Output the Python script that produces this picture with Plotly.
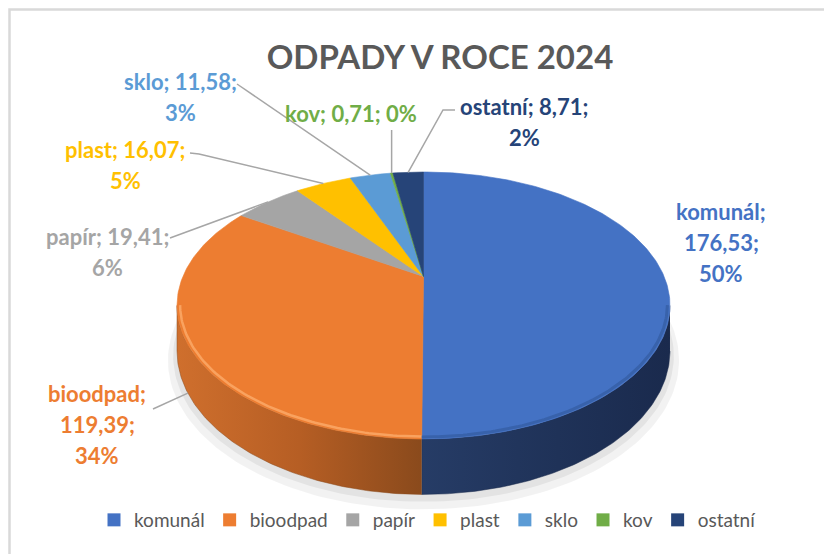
import numpy as np
import plotly.graph_objects as go

# ---------------- data ----------------
categories = ["komunál", "bioodpad", "papír", "plast", "sklo", "kov", "ostatní"]
values = [176.53, 119.39, 19.41, 16.07, 11.58, 0.71, 8.71]
colors = ["#4472C4", "#ED7D31", "#A5A5A5", "#FFC000", "#5B9BD5", "#70AD47", "#264478"]
title_text = "ODPADY V ROCE 2024"

# ---------------- layout / style ----------------
W, H = 832, 554
OFF = 8                      # page body margin compensation
CX, CY = 423.5, 276.5        # apex of the pie on screen
S, SK = 240.6, 127.2         # horizontal / vertical projection scale
P = 0.2172                   # perspective factor
T = 43.4                     # thickness
FONT = "Lato"

side_scales = {
    "komunál": [[0, "#263c66"], [0.55, "#1f3258"], [1, "#1a2a4d"]],
    "bioodpad": [[0, "#cf6f2d"], [0.5, "#b65e24"], [1, "#8a4a1c"]],
}
# label blocks: centre x, first line y, number of lines
label_pos = {
    "komunál": (721, 211, 3),
    "bioodpad": (97, 393, 3),
    "papír": (107, 236, 2),
    "plast": (125, 149, 2),
    "sklo": (180, 81, 2),
    "kov": (351, 113, 1),
    "ostatní": (524, 106, 2),
}
line_gap = 31
leader_start = {
    "bioodpad": [(153, 409)],
    "papír": [(170, 238)],
    "plast": [(190, 153), (199, 154)],
    "sklo": [(237, 84)],
    "kov": [("ax", 130)],
    "ostatní": [(455, 110), (443, 110)],
}


def px2paper_x(px):
    return (px - OFF) / W


def px2paper_y(py):
    return 1 - (py - OFF) / H


def proj(a, depth=0.0, r=1.0):
    u = r * np.sin(a)
    v = r * np.cos(a)
    w = 1 + P * v
    return CX + S * u / w, CY - SK * v / w + depth * T / w


vals = np.array(values)
total = vals.sum()
frac = vals / total
ends = 2 * np.pi * np.cumsum(frac)
starts = ends - 2 * np.pi * frac
A1 = np.arccos(-P)
A2 = 2 * np.pi - A1

fig = go.Figure()

# soft shadow
for r, dy, op in [(1.035, 7, 0.05), (1.015, 4, 0.06)]:
    a = np.linspace(0, 2 * np.pi, 240)
    x, y = proj(a, 1.0, r)
    fig.add_trace(go.Scatter(x=x, y=y + dy, fill="toself", mode="lines",
                             line=dict(width=0), fillcolor=f"rgba(0,0,0,{op})",
                             hoverinfo="skip", showlegend=False))

# side walls (front half only)
for i, name in enumerate(categories):
    lo, hi = max(starts[i], A1), min(ends[i], A2)
    if hi <= lo:
        continue
    a = np.linspace(lo, hi, 120)
    xt, yt = proj(a, 0.0)
    xb, yb = proj(a[::-1], 1.0)
    xs = np.concatenate([xt, xb])
    ys = np.concatenate([yt, yb])
    kw = {}
    if name in side_scales:
        kw["fillgradient"] = dict(type="horizontal", colorscale=side_scales[name])
    else:
        kw["fillcolor"] = colors[i]
    fig.add_trace(go.Scatter(x=xs, y=ys, fill="toself", mode="lines",
                             line=dict(width=0.5, color=side_scales.get(name, [[0, colors[i]]])[-1][1]),
                             hoverinfo="skip", showlegend=False, **kw))

# top faces
for i, name in enumerate(categories):
    n = max(3, int(400 * frac[i]))
    a = np.linspace(starts[i], ends[i], n)
    x, y = proj(a, 0.0)
    xs = np.concatenate([[CX], x, [CX]])
    ys = np.concatenate([[CY], y, [CY]])
    fig.add_trace(go.Scatter(x=xs, y=ys, fill="toself", mode="lines",
                             fillcolor=colors[i], line=dict(width=0.6, color=colors[i]),
                             hoverinfo="skip", showlegend=False))

# rim highlight on bioodpad / shading on komunál
i = 1
a = np.linspace(max(starts[i], A1), min(ends[i], A2), 100)
x, y = proj(a, 0.0, 0.988)
fig.add_trace(go.Scatter(x=x, y=y, mode="lines", line=dict(color="#f9a25f", width=2.5),
                         hoverinfo="skip", showlegend=False))
i = 0
a = np.linspace(max(starts[i], A1), min(ends[i], A2), 100)
x, y = proj(a, 0.0, 0.99)
fig.add_trace(go.Scatter(x=x, y=y, mode="lines", line=dict(color="#3862ab", width=3),
                         hoverinfo="skip", showlegend=False))

# leader lines
for i, name in enumerate(categories):
    if name not in leader_start:
        continue
    mid = (starts[i] + ends[i]) / 2
    if np.cos(mid) < 0:
        ax, ay = proj(mid, 1.0)
    else:
        ax, ay = proj(mid, 0.0)
    pts = [(ax if px == "ax" else px, py) for px, py in leader_start[name]]
    xs = [p[0] for p in pts] + [ax]
    ys = [p[1] for p in pts] + [ay]
    fig.add_trace(go.Scatter(x=xs, y=ys, mode="lines", line=dict(color="#a6a6a6", width=1.5),
                             hoverinfo="skip", showlegend=False))

# legend entries
for i, name in enumerate(categories):
    fig.add_trace(go.Scatter(x=[None], y=[None], mode="markers", name=name,
                             marker=dict(symbol="square", size=13, color=colors[i])))

# data labels
annotations = []
for i, name in enumerate(categories):
    val = f"{values[i]:.2f}".replace(".", ",")
    pct = f"{round(frac[i] * 100):.0f}%"
    cx, y0, nl = label_pos[name]
    if nl == 3:
        lines = [f"{name};", f"{val};", pct]
    elif nl == 2:
        lines = [f"{name}; {val};", pct]
    else:
        lines = [f"{name}; {val}; {pct}"]
    for k, t in enumerate(lines):
        annotations.append(dict(x=cx, y=y0 + k * line_gap, xref="x", yref="y", text=t,
                                showarrow=False, xanchor="center", yanchor="middle",
                                font=dict(family=FONT, size=22, color=colors[i], weight="bold")))

fig.update_layout(
    width=W, height=H,
    margin=dict(l=0, r=0, t=0, b=0),
    paper_bgcolor="white", plot_bgcolor="white",
    xaxis=dict(range=[OFF, W + OFF], visible=False, fixedrange=True),
    yaxis=dict(range=[H + OFF, OFF], visible=False, fixedrange=True),
    title=dict(text=title_text, x=px2paper_x(440), xanchor="center", y=px2paper_y(57), yanchor="middle",
               font=dict(family=FONT, size=33, color="#595959", weight="bold")),
    legend=dict(orientation="h", x=px2paper_x(428), xanchor="center", y=px2paper_y(520), yanchor="middle",
                font=dict(family=FONT, size=19, color="#595959"), itemwidth=30,
                bgcolor="rgba(0,0,0,0)", tracegroupgap=0),
    annotations=annotations,
    shapes=[dict(type="rect", xref="x", yref="y", x0=9.5, y0=9.5, x1=W + 40, y1=H + 40,
                 line=dict(color="#d9d9d9", width=2.5))],
    hovermode=False,
    showlegend=True,
)

fig.write_html("out.html")
